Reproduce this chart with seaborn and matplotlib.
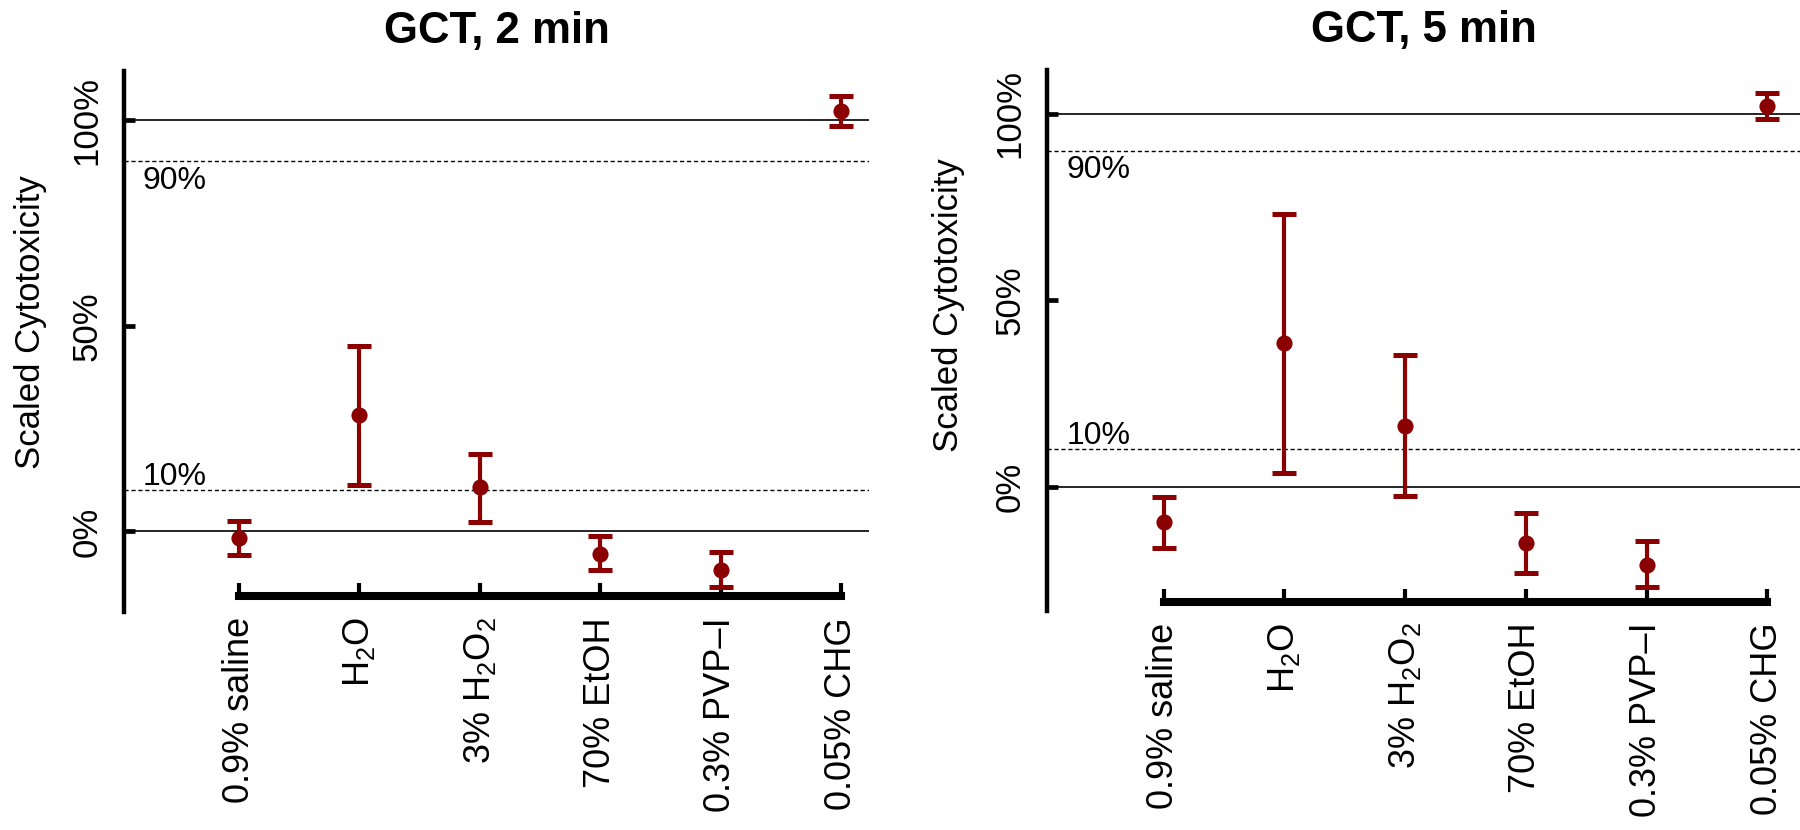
import matplotlib
matplotlib.use("Agg")
import matplotlib.pyplot as plt
import matplotlib.transforms as mtransforms
import seaborn as sns
import pandas as pd

# ---- data ----
categories = ["0.9% saline", "H$_2$O", "3% H$_2$O$_2$", "70% EtOH", "0.3% PVP\u2013I", "0.05% CHG"]
titles = ["GCT, 2 min", "GCT, 5 min"]
ytick_vals = [0, 50, 100]
ytick_labels = ["0%", "50%", "100%"]

gct2_mean = [-1.7, 28.2, 10.7, -5.4, -9.3, 102.3]
gct2_lo = [-5.8, 11.4, 2.3, -9.3, -13.5, 98.5]
gct2_hi = [2.6, 45.2, 18.9, -1.1, -4.9, 106.0]

gct5_mean = [-9.5, 38.4, 16.2, -15.2, -21.0, 102.0]
gct5_lo = [-16.4, 3.6, -2.4, -23.0, -27.0, 98.6]
gct5_hi = [-2.7, 73.2, 35.2, -6.9, -14.5, 105.6]

sns.set_style("white")
plt.rcParams["font.family"] = ["Liberation Sans", "DejaVu Sans"]
plt.rcParams["mathtext.fontset"] = "custom"
plt.rcParams["mathtext.rm"] = "Liberation Sans"
plt.rcParams["mathtext.it"] = "Liberation Sans:italic"
plt.rcParams["mathtext.bf"] = "Liberation Sans:bold"
for k in ["text.color", "axes.edgecolor", "axes.labelcolor", "xtick.color", "ytick.color"]:
    plt.rcParams[k] = "black"

RED = "#8B0000"

fig = plt.figure(figsize=(18, 8.3), dpi=100)
ax1 = fig.add_axes([124 / 1800, 1 - 612 / 830, (869 - 124) / 1800, (612 - 71) / 830])
ax2 = fig.add_axes([1047 / 1800, 1 - 611 / 830, (1800 - 1047) / 1800, (611 - 70) / 830])

panels = [
    (ax1, titles[0], gct2_mean, gct2_lo, gct2_hi, (-0.955, 5.23), (-19.6, 112.0), -15.8, (-0.103, 0.535)),
    (ax2, titles[1], gct5_mean, gct5_lo, gct5_hi, (-0.965, 5.27), (-33.3, 111.7), -30.8, (-0.109, 0.565)),
]

for ax, title, mean, lo, hi, xlim, ylim, xaxis_y, lab_xy in panels:
    df = pd.DataFrame({"pos": list(range(len(categories))), "mean": mean, "lo": lo, "hi": hi})

    for s in ["top", "right"]:
        ax.spines[s].set_visible(False)
    ax.spines["left"].set_linewidth(3.2)
    ax.spines["bottom"].set_linewidth(5.8)
    ax.spines["bottom"].set_position(("data", xaxis_y))

    # reference lines
    ax.axhline(100, color="black", lw=1.2, zorder=1)
    ax.axhline(0, color="black", lw=1.2, zorder=1)
    ax.axhline(90, color="black", lw=1.0, ls=(0, (3, 2)), zorder=1)
    ax.axhline(10, color="black", lw=1.0, ls=(0, (3, 2)), zorder=1)
    trans = mtransforms.blended_transform_factory(ax.transAxes, ax.transData)
    ax.annotate("90%", xy=(0.0255, 90), xycoords=trans, xytext=(0, -3), textcoords="offset points",
                ha="left", va="top", fontsize=23)
    ax.annotate("10%", xy=(0.0255, 10), xycoords=trans, xytext=(0, 4), textcoords="offset points",
                ha="left", va="baseline", fontsize=23)

    ax.errorbar(df["pos"], df["mean"], yerr=[df["mean"] - df["lo"], df["hi"] - df["mean"]],
                fmt="none", ecolor=RED, elinewidth=3.0, capsize=8.3, capthick=3.6, zorder=3)
    sns.scatterplot(data=df, x="pos", y="mean", ax=ax, color=RED, s=135,
                    edgecolor=RED, linewidth=0, zorder=4, legend=False)

    ax.set_xlim(*xlim)
    ax.set_ylim(*ylim)
    ax.spines["bottom"].set_bounds(0, len(categories) - 1)
    ax.spines["bottom"].set_capstyle("projecting")
    ax.set_xticks(range(len(categories)))
    ax.set_xticklabels(categories, rotation=90, fontsize=26)
    ax.set_yticks(ytick_vals)
    ax.set_yticklabels(ytick_labels, rotation=90, va="center", fontsize=25)
    ax.set_xlabel("")
    ax.set_ylabel("Scaled Cytotoxicity", fontsize=25)
    ax.yaxis.set_label_coords(*lab_xy)
    ax.set_title(title, fontsize=31.5, fontweight="bold", pad=20)

    ax.tick_params(axis="x", bottom=True, direction="in", length=9.4, width=3, pad=15)
    ax.tick_params(axis="y", left=True, direction="in", length=8, width=3.4, pad=15)

fig.savefig("out.png", dpi=100, facecolor="white")
